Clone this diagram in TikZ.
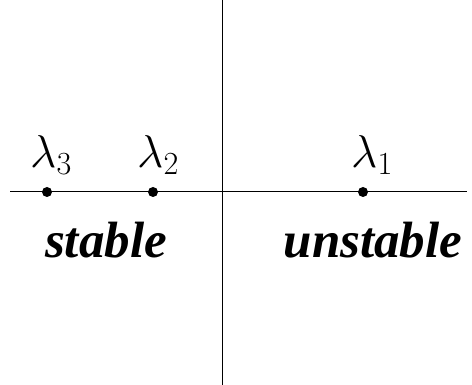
\documentclass[tikz,border=0pt]{standalone}
\usepackage{fix-cm}
\usepackage{fontspec}
\setmainfont{Liberation Serif}
\begin{document}
\begin{tikzpicture}[x=1pt,y=1pt,
  axis/.style={line width=1pt},
  eig/.style={circle,fill=black,inner sep=0pt,minimum size=10pt},
  lab/.style={anchor=base,inner sep=0pt,font=\fontsize{46}{50}\selectfont},
  region/.style={anchor=base,inner sep=0pt,font=\fontsize{51}{60}\selectfont\bfseries\itshape}]
\useasboundingbox (0,0) rectangle (472,385);
\coordinate (top) at (222,385);
\coordinate (bot) at (222,0);
\coordinate (left) at (10,193);
\coordinate (right) at (467,193);
\draw[axis] (top) -- (bot);
\draw[axis] (left) -- (right);
\node[eig] (l3) at (47,193) {};
\node[eig] (l2) at (153,193) {};
\node[eig] (l1) at (363,193) {};
\node[lab] (t3) at (51,217) {$\lambda_3$};
\node[lab] (t2) at (158,217) {$\lambda_2$};
\node[lab] (t1) at (372,217) {$\lambda_1$};
\node[region] (s) at (106,127) {stable};
\node[region] (u) at (373,127) {unstable};
\end{tikzpicture}
\end{document}
